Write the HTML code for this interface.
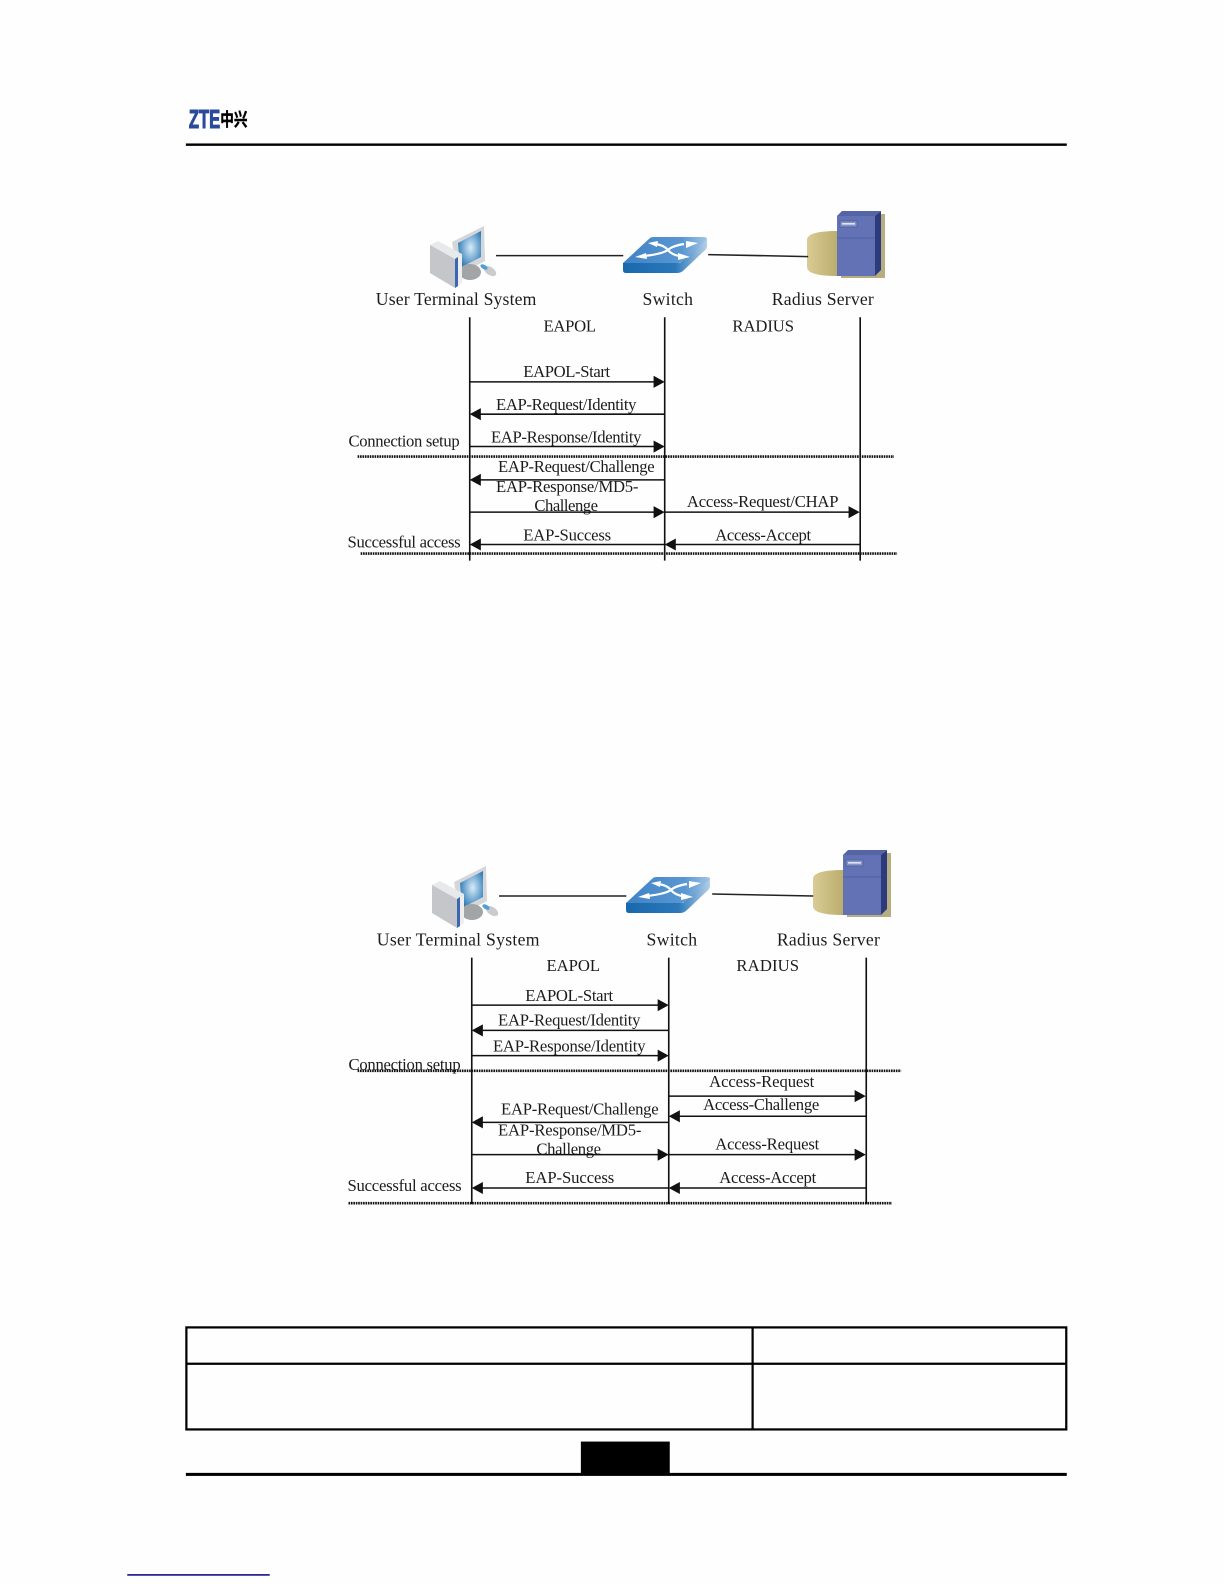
<!DOCTYPE html>
<html lang="en"><head><meta charset="utf-8"><title>ZTE authentication flow</title>
<style>
html,body{margin:0;padding:0;background:#fefefe;width:1224px;height:1584px;overflow:hidden}
svg{display:block}
text{font-family:"Liberation Serif",serif;font-size:16.5px;fill:#1c1c1c}
.l{font-size:17.5px}
.v{stroke:#111;stroke-width:1.6}
.a{stroke:#111;stroke-width:1.5}
.d{stroke:#111;stroke-width:2.6;stroke-dasharray:1.6 .8}
.w{stroke:#222;stroke-width:1.5;fill:none}
</style></head><body>
<svg width="1224" height="1584" viewBox="0 0 1211.64 1568" xmlns="http://www.w3.org/2000/svg">
<defs>
<radialGradient id="scr" cx=".55" cy=".45" r=".6"><stop offset="0" stop-color="#d6ebf9"/><stop offset="1" stop-color="#2a78b4"/></radialGradient>
<linearGradient id="cyl" x1="0" x2="1" y1="0" y2="0"><stop offset="0" stop-color="#d9cc94"/><stop offset="1" stop-color="#b8aa6a"/></linearGradient>
<linearGradient id="fr" x1="0" x2="1" y1="0" y2="0"><stop offset="0" stop-color="#1868ac"/><stop offset=".62" stop-color="#2a78ba"/><stop offset="1" stop-color="#b4cfe8"/></linearGradient>
<linearGradient id="tp" x1="0" x2="1" y1="0" y2="0"><stop offset="0" stop-color="#3f82c6"/><stop offset=".7" stop-color="#5a97d2"/><stop offset="1" stop-color="#a3c5e6"/></linearGradient>
<g id="pc">
<polygon points="452,242 484,226 485,261 458,275" fill="#d4d6da"/>
<polygon points="458,243 481,231 481,257 460,268" fill="url(#scr)"/>
<ellipse cx="470" cy="272" rx="11" ry="8" fill="#a2a4a6"/>
<polygon points="430,245 438,241 462,254 455,259" fill="#e8e9eb"/>
<polygon points="430,245 455,259 455,288 430,273" fill="#c4c6ca"/>
<polygon points="455,259 462,254 462,283 455,288" fill="#eeeeef"/>
<polygon points="455,259 458,257 458,286 455,288" fill="#3a66b4"/>
<ellipse cx="490" cy="271" rx="7" ry="4" fill="#c9cbce" transform="rotate(35 490 271)"/>
<ellipse cx="484" cy="267" rx="4" ry="2.2" fill="#4f9fd8" transform="rotate(30 484 267)"/>
</g>
<g id="sw">
<path d="M623 263 L680 263 L707 238 L707 247 Q706 250 703 252 L684 270 Q681 273 677 273 L626 273 Q623 273 623 270 Z" fill="url(#fr)"/>
<path d="M623 263 L650 238 Q651 237 654 237 L703 237 Q707 237 707 239 L681 262 Q680 263 678 263 Z" fill="url(#tp)"/>
<g fill="none" stroke="#fff" stroke-width="2.2">
<path d="M655 244 Q664 245 668 250 Q672 246 684 244"/>
<path d="M644 256 Q662 254 668 250 Q672 255 680 256"/>
</g>
<g fill="#fff">
<polygon points="648,243 658,241 657,247"/>
<polygon points="698,243 686,241 686,248"/>
<polygon points="635,257 646,253 647,259"/>
<polygon points="690,257 678,253 678,260"/>
</g>
</g>
<g id="srv">
<polygon points="841,278 885,278 885,214 875,214 841,260" fill="#b8ad80"/>
<path d="M807 240 L807 267 Q807 276 837 276 L840 276 L840 231 L837 231 Q807 231 807 240 Z" fill="url(#cyl)"/>
<polygon points="837,216 842,211 881,211 875,216" fill="#5464a4"/>
<rect x="837" y="216" width="38" height="60" fill="#6272b4"/>
<polygon points="875,216 881,211 881,270 875,276" fill="#2b3b7c"/>
<line x1="837" y1="238" x2="875" y2="238" stroke="#4a5a9c" stroke-width=".8"/>
<rect x="840" y="221" width="17" height="6" fill="#8491c6" stroke="#46558f" stroke-width=".6"/>
<rect x="842" y="223" width="13" height="1.6" fill="#dfe3f2"/>
</g>
<polygon id="ar" points="0,0 -11,-6 -11,6" fill="#111"/>
<polygon id="al" points="0,0 11,-6 11,6" fill="#111"/>
</defs>

<rect width="1212" height="1568" fill="#fefefe"/>

<!-- header -->
<text x="187" y="126.5" textLength="31" lengthAdjust="spacingAndGlyphs" style="font-family:'Liberation Sans',sans-serif;font-weight:bold;font-size:26px;fill:#2a4a9c;stroke:#2a4a9c;stroke-width:1">ZTE</text>
<text x="218" y="124.5" textLength="27" lengthAdjust="spacingAndGlyphs" style="font-family:'Liberation Sans','Noto Sans CJK SC',sans-serif;font-weight:bold;font-size:18px;fill:#000;stroke:#000;stroke-width:.4">中兴</text>
<rect x="184" y="142" width="872" height="2.4" fill="#000"/>

<!-- diagram 1 -->
<g transform="scale(.98990)">
<use href="#pc"/><use href="#sw"/><use href="#srv"/>
</g>
<line class="w" x1="491" y1="253" x2="617" y2="253"/>
<line class="w" x1="701" y1="252" x2="800" y2="254"/>
<text class="l" x="372" y="302" textLength="159">User Terminal System</text>
<text class="l" x="636" y="302" textLength="50">Switch</text>
<text class="l" x="764" y="302" textLength="101">Radius Server</text>
<text x="538" y="328" textLength="52">EAPOL</text>
<text x="725" y="328" textLength="61">RADIUS</text>
<line class="v" x1="465" y1="314" x2="465" y2="555"/>
<line class="v" x1="658" y1="314" x2="658" y2="555"/>
<line class="v" x1="851.5" y1="314" x2="851.5" y2="555"/>

<line class="a" x1="465" y1="378" x2="650" y2="378"/><use href="#ar" x="658" y="378"/>
<text x="518" y="373" textLength="86">EAPOL-Start</text>
<line class="a" x1="473" y1="410" x2="658" y2="410"/><use href="#al" x="465" y="410"/>
<text x="491" y="406" textLength="139">EAP-Request/Identity</text>
<line class="a" x1="465" y1="442" x2="650" y2="442"/><use href="#ar" x="658" y="442"/>
<text x="486" y="438" textLength="149">EAP-Response/Identity</text>
<text x="345" y="442" textLength="110">Connection setup</text>
<line class="d" x1="354" y1="452" x2="885" y2="452"/>
<line class="a" x1="473" y1="475" x2="658" y2="475"/><use href="#al" x="465" y="475"/>
<text x="493" y="467" textLength="155">EAP-Request/Challenge</text>
<text x="491" y="487" textLength="141">EAP-Response/MD5-</text>
<text x="529" y="506" textLength="63">Challenge</text>
<line class="a" x1="465" y1="507" x2="650" y2="507"/><use href="#ar" x="658" y="507"/>
<line class="a" x1="658" y1="507" x2="843" y2="507"/><use href="#ar" x="851" y="507"/>
<text x="680" y="502" textLength="150">Access-Request/CHAP</text>
<line class="a" x1="473" y1="539" x2="658" y2="539"/><use href="#al" x="465" y="539"/>
<line class="a" x1="666" y1="539" x2="851" y2="539"/><use href="#al" x="658" y="539"/>
<text x="518" y="535" textLength="87">EAP-Success</text>
<text x="708" y="535" textLength="95">Access-Accept</text>
<text x="344" y="542" textLength="112">Successful access</text>
<line class="d" x1="357" y1="548" x2="888" y2="548"/>

<!-- diagram 2 -->
<g transform="scale(.98990)">
<use href="#pc" transform="translate(2 640)"/>
<use href="#sw" transform="translate(3 640)"/>
<use href="#srv" transform="translate(6 639)"/>
</g>
<line class="w" x1="494" y1="887" x2="620" y2="887"/>
<line class="w" x1="705" y1="885" x2="805" y2="887"/>
<text class="l" x="373" y="936" textLength="161">User Terminal System</text>
<text class="l" x="640" y="936" textLength="50">Switch</text>
<text class="l" x="769" y="936" textLength="102">Radius Server</text>
<text x="541" y="961" textLength="53">EAPOL</text>
<text x="729" y="961" textLength="62">RADIUS</text>
<line class="v" x1="467" y1="948" x2="467" y2="1192"/>
<line class="v" x1="662" y1="948" x2="662" y2="1192"/>
<line class="v" x1="857.5" y1="948" x2="857.5" y2="1192"/>

<line class="a" x1="467" y1="995" x2="654" y2="995"/><use href="#ar" x="662" y="995"/>
<text x="520" y="991" textLength="87">EAPOL-Start</text>
<line class="a" x1="475" y1="1020" x2="662" y2="1020"/><use href="#al" x="467" y="1020"/>
<text x="493" y="1015" textLength="141">EAP-Request/Identity</text>
<line class="a" x1="467" y1="1045" x2="654" y2="1045"/><use href="#ar" x="662" y="1045"/>
<text x="488" y="1041" textLength="151">EAP-Response/Identity</text>
<text x="345" y="1059" textLength="111">Connection setup</text>
<line class="d" x1="354" y1="1060" x2="892" y2="1060"/>
<line class="a" x1="662" y1="1085" x2="849" y2="1085"/><use href="#ar" x="857" y="1085"/>
<text x="702" y="1076" textLength="104">Access-Request</text>
<line class="a" x1="670" y1="1105" x2="857" y2="1105"/><use href="#al" x="662" y="1105"/>
<text x="696" y="1099" textLength="115">Access-Challenge</text>
<line class="a" x1="475" y1="1111" x2="662" y2="1111"/><use href="#al" x="467" y="1111"/>
<text x="496" y="1103" textLength="156">EAP-Request/Challenge</text>
<text x="493" y="1124" textLength="142">EAP-Response/MD5-</text>
<text x="531" y="1143" textLength="64">Challenge</text>
<line class="a" x1="467" y1="1143" x2="654" y2="1143"/><use href="#ar" x="662" y="1143"/>
<line class="a" x1="662" y1="1143" x2="849" y2="1143"/><use href="#ar" x="857" y="1143"/>
<text x="708" y="1138" textLength="103">Access-Request</text>
<line class="a" x1="475" y1="1176" x2="662" y2="1176"/><use href="#al" x="467" y="1176"/>
<line class="a" x1="670" y1="1176" x2="857" y2="1176"/><use href="#al" x="662" y="1176"/>
<text x="520" y="1171" textLength="88">EAP-Success</text>
<text x="712" y="1171" textLength="96">Access-Accept</text>
<text x="344" y="1179" textLength="113">Successful access</text>
<line class="d" x1="345" y1="1191" x2="883" y2="1191"/>

<!-- table -->
<rect x="184.5" y="1314" width="871" height="101" fill="none" stroke="#000" stroke-width="2.2"/>
<line x1="184" y1="1350" x2="1056" y2="1350" stroke="#000" stroke-width="2.2"/>
<line x1="745" y1="1314" x2="745" y2="1415" stroke="#000" stroke-width="2.2"/>

<!-- footer -->
<rect x="184" y="1458" width="872" height="3" fill="#000"/>
<rect x="575" y="1427" width="88" height="33" fill="#000"/>
<rect x="126" y="1558.2" width="141" height="1.6" fill="#14148c"/>
</svg>
</body></html>
